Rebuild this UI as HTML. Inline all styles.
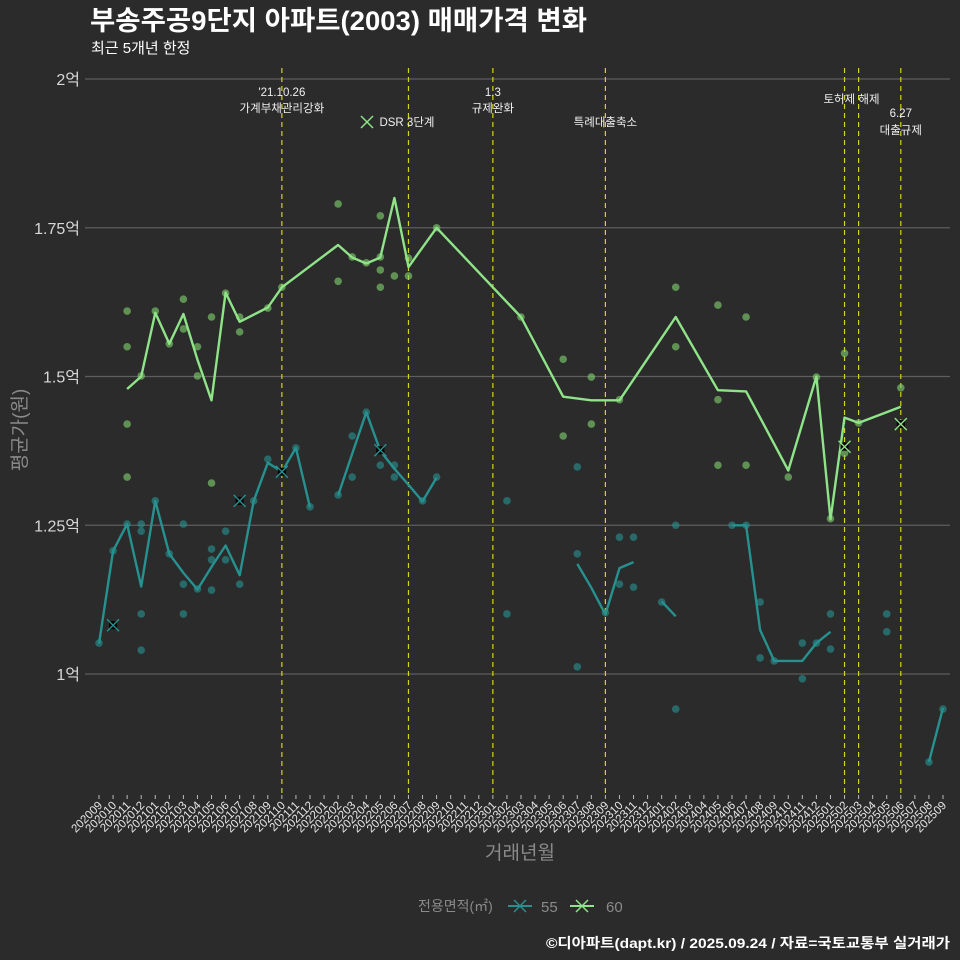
<!DOCTYPE html>
<html><head><meta charset="utf-8">
<style>
html,body{margin:0;padding:0;background:#2b2b2b;}
svg{display:block;font-family:"Liberation Sans","Noto Sans CJK KR",sans-serif;}
</style></head>
<body>
<svg id="chart" width="960" height="960" viewBox="0 0 960 960">
<rect x="0" y="0" width="960" height="960" fill="#2b2b2b"/>
<text x="90" y="30" fill="#ffffff" font-size="27" font-weight="bold" textLength="497" lengthAdjust="spacingAndGlyphs">부송주공9단지 아파트(2003) 매매가격 변화</text>
<text x="91" y="53" fill="#ffffff" font-size="15">최근 5개년 한정</text>
<g id="grid"></g>
<g id="events"></g>
<g id="series"></g>
<g id="axes"></g>
<text transform="translate(26,430) rotate(-90)" text-anchor="middle" fill="#8a8a8a" font-size="19">평균가(원)</text>
<text x="520" y="859" text-anchor="middle" fill="#8a8a8a" font-size="19">거래년월</text>
<g>
<text x="418" y="911" fill="#8a8a8a" font-size="14">전용면적(㎡)</text>
<g>
<line x1="508" y1="906" x2="532" y2="906" stroke="#26918f" stroke-width="2"/>
<path d="M514,900 L526,912 M526,900 L514,912" stroke="#26918f" stroke-width="1.5"/>
<text x="541" y="912" fill="#8a8a8a" font-size="15">55</text>
</g>
<g>
<line x1="570" y1="906" x2="594" y2="906" stroke="#8fe388" stroke-width="2"/>
<path d="M576,900 L588,912 M588,900 L576,912" stroke="#8fe388" stroke-width="1.5"/>
<text x="606" y="912" fill="#8a8a8a" font-size="15">60</text>
</g>
</g>
<text x="546" y="948" fill="#ffffff" font-size="14" font-weight="bold" textLength="404" lengthAdjust="spacingAndGlyphs">©디아파트(dapt.kr) / 2025.09.24 / 자료=국토교통부 실거래가</text>
</svg>
<script>
const months = [];
for (let y = 2020, m = 9; y * 100 + m <= 202509; m++) { if (m > 12) { m = 1; y++; } months.push(String(y * 100 + m).padStart(6, '0')); }
const yTicks = [1, 1.25, 1.5, 1.75, 2];
const yTickLabels = ['1억', '1.25억', '1.5억', '1.75억', '2억'];

const line60Month = ['202011','202012','202101','202102','202103','202104','202105','202106','202107','202109','202110','202202','202203','202204','202205','202206','202207','202209','202303','202306','202308','202310','202402','202405','202407','202410','202412','202501','202502','202503','202506'];
const line60Value = [1.479,1.50,1.607,1.555,1.605,1.528,1.46,1.641,1.592,1.616,1.65,1.721,1.70,1.69,1.70,1.80,1.684,1.75,1.60,1.466,1.46,1.46,1.60,1.477,1.475,1.342,1.50,1.26,1.431,1.422,1.449];

const line55Month = ['202009','202010','202011','202012','202101','202102','202103','202104','202105','202106','202107','202108','202109','202110','202111','202112','202201','202202','202203','202204','202205','202206','202207','202208','202209','202210','202307','202308','202309','202310','202311','202312','202401','202402','202403','202406','202407','202408','202409','202410','202411','202412','202501','202507','202508','202509'];
const line55Value = [1.051,1.207,1.252,1.147,1.291,1.202,1.17,1.142,1.18,1.216,1.166,1.291,1.355,1.34,1.38,1.28,null,1.30,1.37,1.44,1.375,1.345,1.318,1.29,1.33,null,1.185,1.145,1.10,1.178,1.188,null,1.122,1.097,null,1.25,1.25,1.074,1.022,1.022,1.022,1.052,1.071,null,0.852,0.943];

const pts60Month = ['202011','202011','202011','202011','202012','202101','202102','202103','202103','202104','202104','202105','202105','202106','202107','202107','202109','202110','202202','202202','202203','202204','202205','202205','202205','202205','202206','202207','202207','202209','202303','202306','202306','202308','202308','202310','202402','202402','202405','202405','202405','202407','202407','202410','202412','202501','202502','202502','202503','202506'];
const pts60Value = [1.610,1.550,1.420,1.331,1.501,1.610,1.555,1.630,1.580,1.550,1.501,1.600,1.321,1.640,1.600,1.575,1.615,1.650,1.790,1.660,1.701,1.691,1.770,1.701,1.679,1.650,1.669,1.699,1.669,1.750,1.600,1.529,1.400,1.499,1.420,1.461,1.650,1.550,1.620,1.461,1.351,1.600,1.351,1.331,1.499,1.261,1.539,1.371,1.422,1.481];

const pts55Month = ['202009','202010','202011','202012','202012','202012','202012','202101','202102','202103','202103','202103','202104','202105','202105','202105','202106','202106','202107','202108','202109','202110','202111','202112','202202','202203','202203','202204','202205','202206','202206','202208','202209','202302','202302','202307','202307','202307','202309','202310','202310','202311','202311','202401','202402','202402','202406','202407','202408','202408','202409','202411','202411','202412','202501','202501','202505','202505','202508','202509'];
const pts55Value = [1.052,1.207,1.252,1.252,1.240,1.101,1.040,1.291,1.202,1.252,1.151,1.101,1.143,1.210,1.192,1.141,1.240,1.192,1.151,1.291,1.361,1.339,1.380,1.281,1.301,1.400,1.331,1.440,1.351,1.351,1.331,1.291,1.331,1.291,1.101,1.348,1.202,1.012,1.103,1.230,1.151,1.230,1.146,1.121,1.250,0.941,1.250,1.250,1.121,1.027,1.022,1.052,0.992,1.052,1.101,1.042,1.101,1.071,0.852,0.941];

const x55Month = ['202010','202107','202110','202205'];
const x55Value = [1.082,1.291,1.340,1.376];
const x60Month = ['202502','202506'];
const x60Value = [1.382,1.420];

const eventMonth = ['202110','202207','202301','202309','202502','202503','202506'];

const NS = 'http://www.w3.org/2000/svg';
const X0 = 99, X1 = 943, Y1v = 674, Y2v = 79;
function xScale(m){ const i = months.indexOf(m); return X0 + i * (X1 - X0) / (months.length - 1); }
function yScale(v){ return Y1v + (v - 1) * (Y2v - Y1v); }
function mk(tag, attrs, parent){ const e = document.createElementNS(NS, tag); for (const k in attrs) e.setAttribute(k, attrs[k]); parent.appendChild(e); return e; }

const grid = document.getElementById('grid');
const axes = document.getElementById('axes');
yTicks.forEach((v, i) => {
  const g = mk('line', {x1: 85, x2: 950, y1: yScale(v), y2: yScale(v), stroke: '#5e5e5e', 'stroke-width': 1.2}, grid);
  
  
  const t = mk('text', {x: 80, y: yScale(v) + 6, 'text-anchor': 'end', fill: '#d8d8d8', 'font-size': 16}, axes);
  t.textContent = yTickLabels[i];
  
  
});
months.forEach(m => {
  const x = xScale(m);
  const tk = mk('line', {x1: x, x2: x, y1: 795, y2: 799, stroke: '#bbbbbb', 'stroke-width': 1}, axes);
  
  
  const t = mk('text', {x: 0, y: 0, 'text-anchor': 'end', fill: '#e8e8e8', 'font-size': 11.5, transform: `translate(${x + 4},${806}) rotate(-45)`}, axes);
  t.textContent = m;
  
  
});

const ev = document.getElementById('events');
eventMonth.forEach(m => {
  const l = mk('line', {x1: xScale(m), x2: xScale(m), y1: 68, y2: 797, stroke: '#d4d419', 'stroke-width': 1.2, 'stroke-dasharray': '5,4'}, ev);
  
  
});
const notes = [
  ["'21.10.26", '202110', 96, 'middle', 0], ['가계부채관리강화', '202110', 112, 'middle', 0],
  ['DSR 3단계', '202207', 126, 'start', -29],
  ['1.3', '202301', 96, 'middle', 0], ['규제완화', '202301', 112, 'middle', 0],
  ['특례대출축소', '202309', 126, 'middle', 0],
  ['토허제 해제', '202502', 103, 'middle', 7],
  ['6.27', '202506', 117, 'middle', 0], ['대출규제', '202506', 134, 'middle', 0]
];
notes.forEach(n => {
  const t = mk('text', {x: xScale(n[1]) + n[4], y: n[2], 'text-anchor': n[3], fill: '#f0f0f0', 'font-size': 11.5}, ev);
  t.textContent = n[0];
  
  
});
const ax = mk('path', {d: 'M361,116 L373,128 M373,116 L361,128', stroke: '#8fe388', 'stroke-width': 1.5}, ev);



const ser = document.getElementById('series');
function dots(ms, vs, color, name){
  ms.forEach((m, i) => {
    const c = mk('circle', {cx: xScale(m), cy: yScale(vs[i]), r: 3.8, fill: color, 'fill-opacity': 0.62}, ser);
    
    
  });
}
function line(ms, vs, color, name){
  let d = '', pen = false;
  ms.forEach((m, i) => {
    if (vs[i] === null) { pen = false; return; }
    d += (pen ? 'L' : 'M') + xScale(m).toFixed(1) + ',' + yScale(vs[i]).toFixed(1);
    pen = true;
  });
  const p = mk('path', {d: d, fill: 'none', stroke: color, 'stroke-width': 2.4, 'stroke-linejoin': 'round'}, ser);
  
  
}
function xmarks(ms, vs, color, name){
  ms.forEach((m, i) => {
    const x = xScale(m), y = yScale(vs[i]);
    const b = mk('rect', {x: x - 4, y: y - 4, width: 8, height: 8, fill: '#000'}, ser);
    
    
    const p = mk('path', {d: `M${x-6},${y-6} L${x+6},${y+6} M${x+6},${y-6} L${x-6},${y+6}`, stroke: color, 'stroke-width': 1.4}, ser);
    
    
  });
}
dots(pts55Month, pts55Value, '#26918f', 'point-55');
dots(pts60Month, pts60Value, '#7fcf6e', 'point-60');
line(line55Month, line55Value, '#26918f', 'line-55');
line(line60Month, line60Value, '#8fe388', 'line-60');
xmarks(x55Month, x55Value, '#26918f', 'x-marker-55');
xmarks(x60Month, x60Value, '#8fe388', 'x-marker-60');
</script>
</body></html>
